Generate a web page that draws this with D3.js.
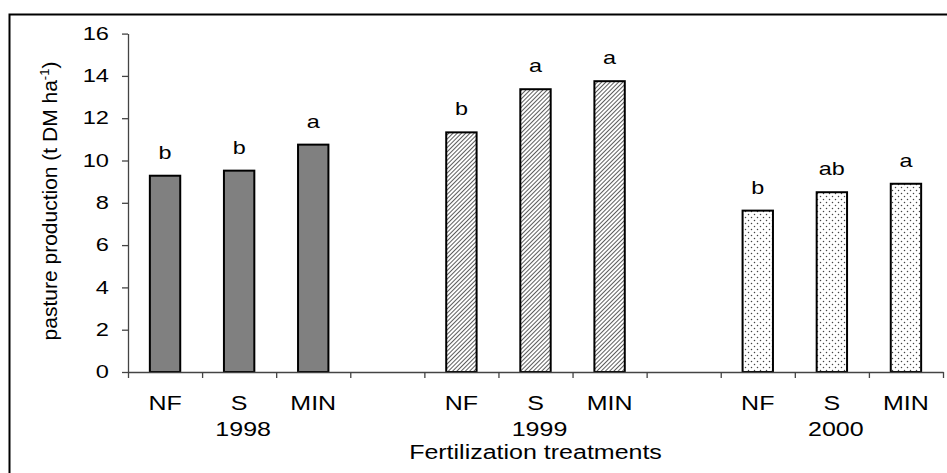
<!DOCTYPE html>
<html>
<head>
<meta charset="utf-8">
<script src="https://cdn.jsdelivr.net/npm/d3@7"></script>
<style>
  body { margin: 0; background: #fff; }
  svg text { font-family: "Liberation Sans", Arial, sans-serif; fill: #000; }
</style>
</head>
<body>
<svg id="chart"></svg>
<script>
// data
const years = ["1998", "1999", "2000"];
const treatments = ["NF", "S", "MIN"];
const production1998 = [9.28, 9.52, 10.75];
const production1999 = [11.33, 13.37, 13.75];
const production2000 = [7.63, 8.5, 8.9];
const letters1998 = ["b", "b", "a"];
const letters1999 = ["b", "a", "a"];
const letters2000 = ["b", "ab", "a"];
const yTicks = [0, 2, 4, 6, 8, 10, 12, 14, 16];

const width = 947, height = 473;
const margin = { top: 33.6, left: 128, right: 4, bottom: 101 };

const svg = d3.select("#chart").attr("width", width).attr("height", height);

const defs = svg.append("defs");
// diagonal hatch for 1999
const hatch = defs.append("pattern")
  .attr("id", "hatch")
  .attr("patternUnits", "userSpaceOnUse")
  .attr("width", 3).attr("height", 3)
  .attr("patternTransform", "rotate(45)");
hatch.append("rect").attr("width", 3).attr("height", 3).attr("fill", "#fff");
hatch.append("line").attr("x1", 0).attr("y1", 0).attr("x2", 0).attr("y2", 3)
  .attr("stroke", "#333").attr("stroke-width", 1.6);
// dots for 2000
const dots = defs.append("pattern")
  .attr("id", "dots")
  .attr("patternUnits", "userSpaceOnUse")
  .attr("width", 6).attr("height", 6);
dots.append("rect").attr("width", 6).attr("height", 6).attr("fill", "#fff");
dots.append("circle").attr("cx", 1.5).attr("cy", 1.5).attr("r", 0.75).attr("fill", "#444");
dots.append("circle").attr("cx", 4.5).attr("cy", 4.5).attr("r", 0.75).attr("fill", "#444");

// outer frame (runs off the right and bottom edge)
svg.append("rect")
  .attr("x", 9.5).attr("y", 14.5)
  .attr("width", 980).attr("height", 500)
  .attr("fill", "none").attr("stroke", "#000").attr("stroke-width", 2);

// build rows: 3 bars, a gap slot, 3 bars, gap, 3 bars
const groups = [
  { year: years[0], values: production1998, letters: letters1998, fill: "#808080" },
  { year: years[1], values: production1999, letters: letters1999, fill: "url(#hatch)" },
  { year: years[2], values: production2000, letters: letters2000, fill: "url(#dots)" }
];
const bars = [];
groups.forEach((g, gi) => {
  treatments.forEach((t, ti) => {
    bars.push({ slot: gi * 4 + ti, year: g.year, treatment: t, value: g.values[ti], letter: g.letters[ti], fill: g.fill });
  });
});
const nSlots = 11;

const x = d3.scaleLinear().domain([0, nSlots]).range([margin.left, width - margin.right]);
const y = d3.scaleLinear().domain([0, 16]).range([height - margin.bottom, margin.top]);
const slotW = x(1) - x(0);
const barW = slotW * 0.41;

// bars
svg.append("g").selectAll("rect")
  .data(bars)
  .join("rect")
  .attr("x", d => x(d.slot + 0.5) - barW / 2)
  .attr("y", d => y(d.value))
  .attr("width", barW)
  .attr("height", d => y(0) - y(d.value))
  .attr("fill", d => d.fill)
  .attr("stroke", "#000")
  .attr("stroke-width", 2);

// significance letters
svg.append("g").selectAll("text")
  .data(bars)
  .join("text")
  .attr("text-anchor", "middle")
  .attr("transform", d => `translate(${x(d.slot + 0.5)},${y(d.value) - 17}) scale(1.3,1)`)
  .style("font-size", "18px")
  .text(d => d.letter);

// y axis
const yAxisG = svg.append("g")
  .attr("transform", `translate(${margin.left},0)`)
  .call(d3.axisLeft(y).tickValues(yTicks).tickSize(6).tickSizeOuter(0));
yAxisG.select(".domain").attr("stroke", "#444").attr("stroke-width", 1.3);
yAxisG.selectAll(".tick line").attr("stroke", "#444").attr("stroke-width", 1.3);
yAxisG.selectAll(".tick text")
  .attr("x", null)
  .attr("transform", "translate(-19,0) scale(1.35,1)")
  .style("font-size", "17.5px")
  .style("font-family", "Liberation Sans, Arial, sans-serif")
  .attr("fill", "#000");

// x axis: ticks on slot boundaries
const xAxisG = svg.append("g")
  .attr("transform", `translate(0,${y(0)})`)
  .call(d3.axisBottom(x).tickValues(d3.range(0, nSlots + 1)).tickFormat("").tickSize(6).tickSizeOuter(0));
xAxisG.select(".domain").attr("stroke", "#444").attr("stroke-width", 1.3);
xAxisG.selectAll(".tick line").attr("stroke", "#444").attr("stroke-width", 1.3);

// category labels
svg.append("g").selectAll("text")
  .data(bars)
  .join("text")
  .attr("text-anchor", "middle")
  .attr("transform", d => `translate(${x(d.slot + 0.5)},410) scale(1.25,1)`)
  .style("font-size", "20px")
  .text(d => d.treatment);

// year labels
svg.append("g").selectAll("text")
  .data(groups)
  .join("text")
  .attr("text-anchor", "middle")
  .attr("transform", (d, i) => `translate(${x(i * 4 + 1.5) + 4},436) scale(1.25,1)`)
  .style("font-size", "20px")
  .text(d => d.year);

// axis titles
svg.append("text")
  .attr("text-anchor", "middle")
  .attr("transform", `translate(${(x(0) + x(nSlots)) / 2},459) scale(1.25,1)`)
  .style("font-size", "20px")
  .text("Fertilization treatments");

const yTitle = svg.append("text")
  .attr("text-anchor", "middle")
  .attr("transform", "translate(57,201) rotate(-90)")
  .style("font-size", "21px");
yTitle.append("tspan").text("pasture production (t DM ha");
yTitle.append("tspan").attr("dy", -8).style("font-size", "13px").text("-1");
yTitle.append("tspan").attr("dy", 8).text(")");
</script>
</body>
</html>
